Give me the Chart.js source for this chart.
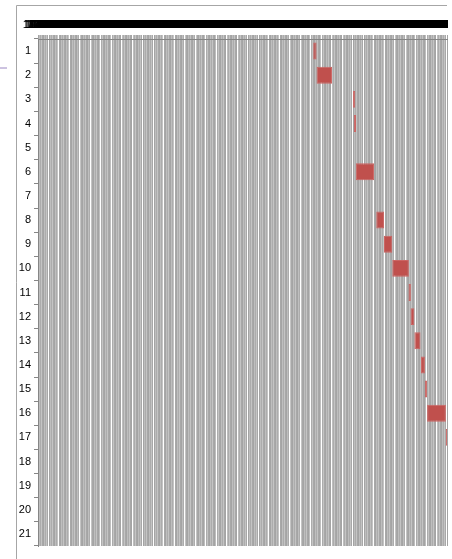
<!DOCTYPE html>
<html>
<head>
<meta charset="utf-8">
<script src="https://cdn.jsdelivr.net/npm/chart.js@4.4.1/dist/chart.umd.min.js"></script>
<style>
  html, body { margin: 0; padding: 0; background: #fff; }
  #wrap { width: 452px; height: 559px; }
</style>
</head>
<body>
<div id="wrap"><canvas id="gantt" width="452" height="559"></canvas></div>
<script>
// Tareas del diagrama (eje vertical)
const tareas = ['1', '2', '3', '4', '5', '6', '7', '8', '9', '10', '11',
                '12', '13', '14', '15', '16', '17', '18', '19', '20', '21'];

// Día de inicio y fin de cada tarea (días desde la fecha base), null = sin barra
const diaInicio = [249, 252, 285, 285.7, null, 287.5, null, 306, 313, 320.5, 335.2,
                   337, 340.5, 346.5, 350, 352, 369, null, null, null, null];
const diaFin    = [252, 266, 287, 287.7, null, 304, null, 313, 320.5, 335.5, 337.3,
                   340.5, 346, 350, 352, 369, 375, null, null, null, null];

// Rango del eje de fechas
const diasEje = 370;
const fechaBase = new Date(2013, 0, 1);

const fuente = "'Liberation Sans Narrow', 'Liberation Sans', Arial, sans-serif";

// Tonos de las líneas de cuadrícula (imitan el suavizado de Excel)
const tonosCuadricula = ['#a4a4a4', '#bebebe', '#acacac', '#c4c4c4', '#a8a8a8'];

function etiquetaFecha(valor) {
    const f = new Date(fechaBase.getTime());
    f.setDate(f.getDate() + valor);
    return (f.getMonth() + 1) + '/' + f.getDate() + '/' + String(f.getFullYear()).slice(2);
}

// Marco del gráfico (estilo Excel)
const marcoPlugin = {
    id: 'marco',
    beforeDraw(chart) {
        const ctx = chart.ctx;
        ctx.save();
        ctx.strokeStyle = '#a6a6a6';
        ctx.lineWidth = 1;
        ctx.beginPath();
        ctx.moveTo(16.5, 559);
        ctx.lineTo(16.5, 5.5);
        ctx.lineTo(447, 5.5);
        ctx.stroke();
        ctx.strokeStyle = '#9a86c2';
        ctx.beginPath();
        ctx.moveTo(0, 68);
        ctx.lineTo(7, 68);
        ctx.stroke();
        ctx.restore();
    },
    afterDraw(chart) {
        // el área del gráfico termina en el borde derecho del área de trazado
        const ctx = chart.ctx;
        ctx.save();
        ctx.fillStyle = '#fff';
        ctx.fillRect(chart.chartArea.right + 1, 8, 10, chart.chartArea.top - 12);
        ctx.restore();
    }
};

const datosBarras = diaInicio.map((ini, i) => ini === null ? null : [ini, diaFin[i]]);

new Chart(document.getElementById('gantt').getContext('2d'), {
    type: 'bar',
    data: {
        labels: tareas,
        datasets: [{
            label: 'Duración',
            data: datosBarras,
            backgroundColor: '#c0504d',
            borderColor: '#cc6664',
            borderWidth: 1,
            borderSkipped: false,
            barPercentage: 0.7,
            categoryPercentage: 1
        }]
    },
    options: {
        indexAxis: 'y',
        responsive: false,
        animation: false,
        devicePixelRatio: 1,
        layout: { padding: { left: 16, right: 5, top: 0, bottom: 13 } },
        plugins: {
            legend: { display: false },
            tooltip: { enabled: false }
        },
        scales: {
            x: {
                type: 'linear',
                position: 'top',
                min: 0,
                max: diasEje,
                ticks: {
                    stepSize: 1,
                    autoSkip: false,
                    maxRotation: 0,
                    minRotation: 0,
                    color: '#000',
                    padding: 3,
                    font: { size: 11, family: fuente },
                    callback: v => etiquetaFecha(v)
                },
                grid: {
                    color: c => tonosCuadricula[c.index % tonosCuadricula.length],
                    lineWidth: 1,
                    tickLength: 4
                },
                border: { color: '#868686' },
                afterFit: s => {
                    s.height = 39;
                    // sin reserva lateral para la primera/última etiqueta
                    s.paddingLeft = 0;
                    s.paddingRight = 0;
                }
            },
            y: {
                ticks: {
                    color: '#000',
                    padding: 3,
                    font: { size: 11, family: fuente }
                },
                grid: { offset: true, drawOnChartArea: false, tickLength: 4, color: '#868686' },
                border: { color: '#868686' },
                afterFit: s => { s.width = 22; }
            }
        }
    },
    plugins: [marcoPlugin]
});
</script>
</body>
</html>
